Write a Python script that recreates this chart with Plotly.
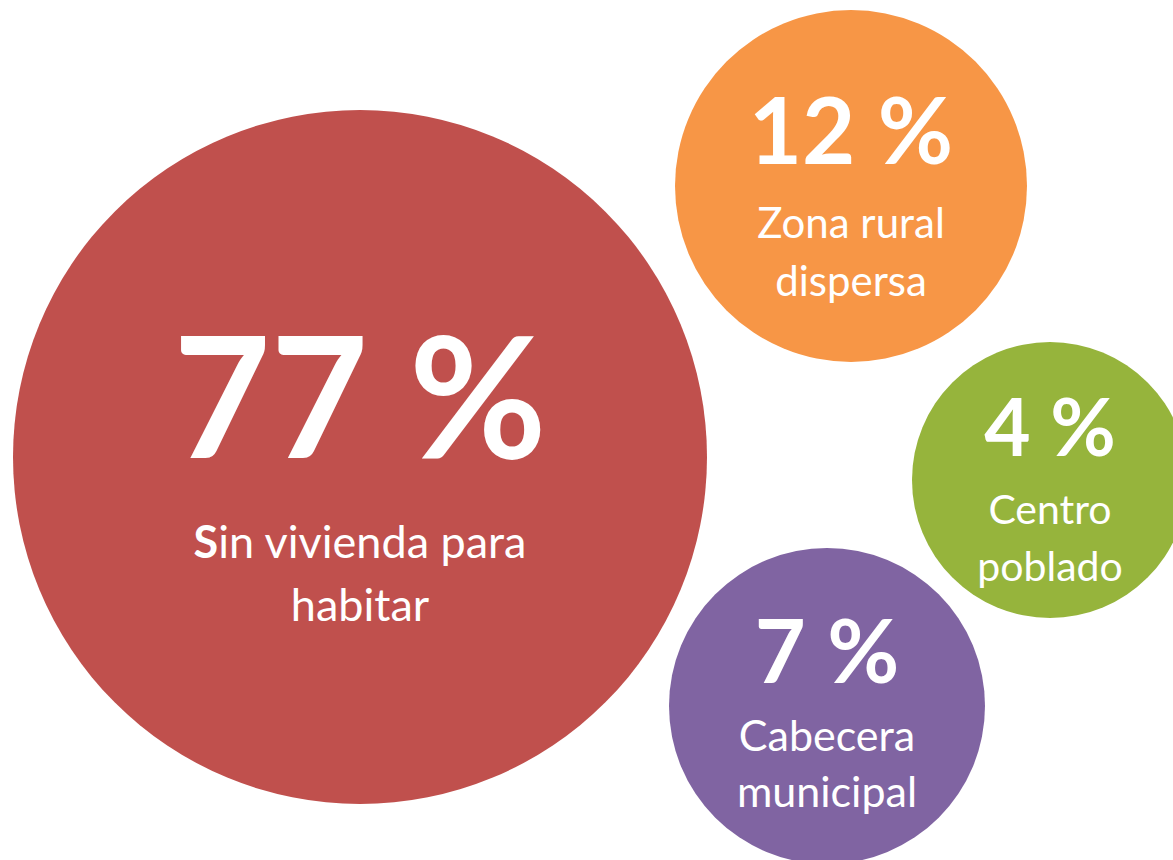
import plotly.graph_objects as go

# data
categories = ["Sin vivienda para habitar", "Zona rural dispersa", "Centro poblado", "Cabecera municipal"]
percentages = [77, 12, 4, 7]
label_lines = [
    ["<b>S</b>in vivienda para", "habitar"],
    ["Zona rural", "dispersa"],
    ["Centro", "poblado"],
    ["Cabecera", "municipal"],
]

# layout of bubbles (pixel space, y down)
colors = ["#C0504D", "#F79646", "#96B43C", "#8064A2"]
centers = [(360, 457), (851, 186), (1050, 480), (827, 706)]
radii = [347, 176, 138, 158]
num_sizes = [168, 92, 80, 88]
num_y = [396, 130, 426, 650]
lab_sizes = [45, 42, 41, 43]
lab_y = [(542, 605), (223, 281), (510, 567), (736, 792)]

W, H = 1173, 860
FONT = "Lato, 'Open Sans', sans-serif"

fig = go.Figure()

shapes = []
for (cx, cy), r, c in zip(centers, radii, colors):
    shapes.append(dict(type="circle", xref="x", yref="y",
                       x0=cx - r, x1=cx + r, y0=cy - r, y1=cy + r,
                       fillcolor=c, line=dict(width=0), layer="below"))

for i, pct in enumerate(percentages):
    cx = centers[i][0]
    # plotly centres the em box, nudge down so the cap height sits on target
    fig.add_trace(go.Scatter(
        x=[cx], y=[num_y[i] + 0.12 * num_sizes[i]], mode="text",
        text=[f"<b>{pct} %</b>"], textposition="middle center",
        textfont=dict(family=FONT, size=num_sizes[i], color="white"),
        hoverinfo="skip", showlegend=False,
    ))
    fig.add_trace(go.Scatter(
        x=[cx, cx], y=[v + 0.1 * lab_sizes[i] for v in lab_y[i]], mode="text",
        text=label_lines[i], textposition="middle center",
        textfont=dict(family=FONT, size=lab_sizes[i], color="white"),
        hoverinfo="skip", showlegend=False, name=categories[i],
    ))

fig.update_layout(
    width=W, height=H,
    margin=dict(l=0, r=0, t=0, b=0),
    paper_bgcolor="white", plot_bgcolor="white",
    shapes=shapes,
    xaxis=dict(range=[0, W], visible=False, fixedrange=True),
    yaxis=dict(range=[H, 0], visible=False, fixedrange=True),
)

fig.write_html("out.html", config={"displayModeBar": False},
               post_script="document.body.style.margin='0';")
